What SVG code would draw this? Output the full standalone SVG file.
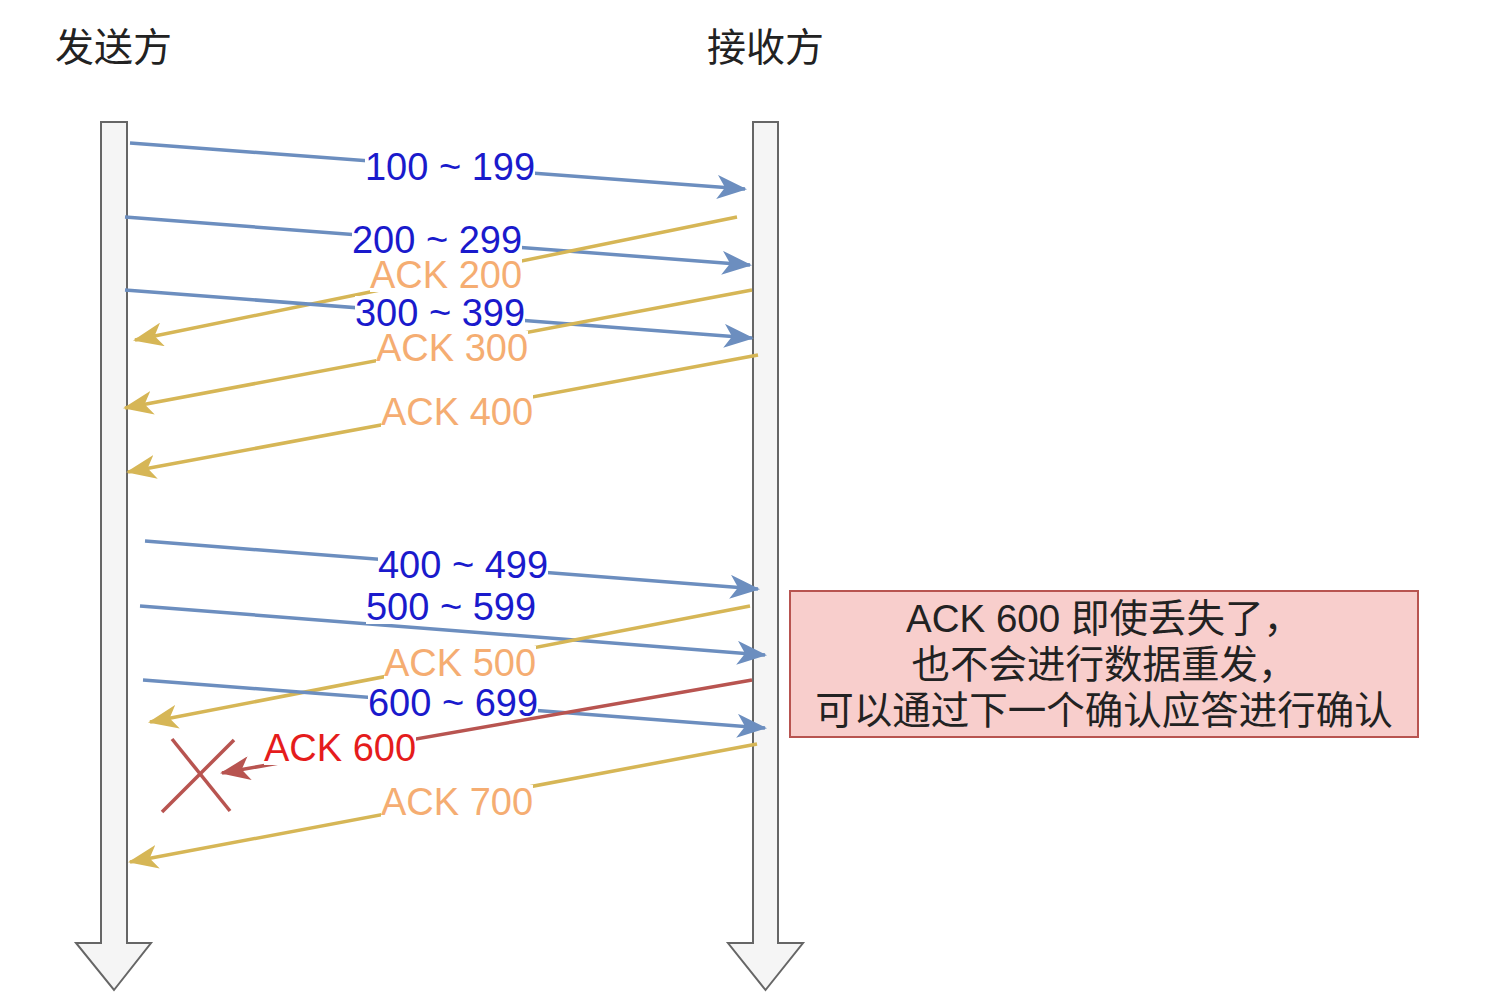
<svg xmlns="http://www.w3.org/2000/svg" width="1506" height="1000" viewBox="0 0 1506 1000">
<style>
.tl{fill:#f5f5f5;stroke:#666666;stroke-width:2}
.b{stroke:#6c8ebf;stroke-width:3.5;fill:none}
.y{stroke:#d6b656;stroke-width:3.5;fill:none}
.r{stroke:#b85450;stroke-width:3.5;fill:none}
.bg{fill:#ffffff}
.lb{font-family:"Liberation Sans",Arial,sans-serif;font-size:38px;text-anchor:middle}
.blue{fill:#1a1acc}
.org{fill:#f5ad72}
.red{fill:#e51c1c}
.cn{font-family:"Noto Sans CJK SC",sans-serif;font-size:39px;fill:#222222}
.note{font-family:"Liberation Sans","Noto Sans CJK SC",sans-serif;font-size:38.5px;fill:#222222;text-anchor:middle}
</style>
<defs>
<marker id="ab" markerUnits="userSpaceOnUse" markerWidth="30" markerHeight="24" viewBox="0 0 30 24" refX="28" refY="12" orient="auto"><path d="M0,0 L30,12 L0,24 L8,12 Z" fill="#6c8ebf"/></marker>
<marker id="ay" markerUnits="userSpaceOnUse" markerWidth="30" markerHeight="24" viewBox="0 0 30 24" refX="28" refY="12" orient="auto"><path d="M0,0 L30,12 L0,24 L8,12 Z" fill="#d6b656"/></marker>
<marker id="ar" markerUnits="userSpaceOnUse" markerWidth="30" markerHeight="24" viewBox="0 0 30 24" refX="28" refY="12" orient="auto"><path d="M0,0 L30,12 L0,24 L8,12 Z" fill="#b85450"/></marker>
</defs>
<rect x="0" y="0" width="1506" height="1000" fill="#ffffff"/>

<g id="sender">
<path class="tl" d="M101,122 H127 V943 H151 L114,990 L76,943 H101 Z"/>
<text class="cn" x="55" y="61">发送方</text>
</g>
<g id="receiver">
<path class="tl" d="M753,122 H778 V943 H803 L765.5,990 L728,943 H753 Z"/>
<text class="cn" x="707" y="61">接收方</text>
</g>

<g id="note">
<rect x="790" y="591" width="628" height="146" fill="#f8cecc" stroke="#b85450" stroke-width="2"/>
<text class="note" x="1104" y="632">ACK 600 即使丢失了，</text>
<text class="note" x="1104" y="678">也不会进行数据重发，</text>
<text class="note" x="1104" y="724">可以通过下一个确认应答进行确认</text>
</g>

<g id="connectors">
<g id="e1"><line class="b" x1="130" y1="143" x2="745" y2="189" marker-end="url(#ab)"/><rect class="bg" x="365" y="150" width="170" height="34"/><text class="lb blue" x="450" y="180">100 ~ 199</text></g>
<g id="e2"><line class="b" x1="125" y1="217" x2="750" y2="265" marker-end="url(#ab)"/><rect class="bg" x="352" y="223" width="170" height="34"/><text class="lb blue" x="437" y="253">200 ~ 299</text></g>
<g id="e3"><line class="y" x1="737" y1="217" x2="135" y2="340" marker-end="url(#ay)"/><rect class="bg" x="370" y="258" width="152" height="34"/><text class="lb org" x="446" y="288">ACK 200</text></g>
<g id="e4"><line class="b" x1="125" y1="290" x2="752" y2="338" marker-end="url(#ab)"/><rect class="bg" x="355" y="296" width="170" height="34"/><text class="lb blue" x="440" y="326">300 ~ 399</text></g>
<g id="e5"><line class="y" x1="752" y1="290" x2="125" y2="408" marker-end="url(#ay)"/><rect class="bg" x="376" y="331" width="152" height="34"/><text class="lb org" x="452" y="361">ACK 300</text></g>
<g id="e6"><line class="y" x1="758" y1="355" x2="128" y2="472" marker-end="url(#ay)"/><rect class="bg" x="381" y="395" width="152" height="34"/><text class="lb org" x="457" y="425">ACK 400</text></g>
<g id="e7"><line class="b" x1="145" y1="541" x2="758" y2="589" marker-end="url(#ab)"/><rect class="bg" x="378" y="548" width="170" height="34"/><text class="lb blue" x="463" y="578">400 ~ 499</text></g>
<g id="e8"><line class="b" x1="140" y1="606" x2="765" y2="655" marker-end="url(#ab)"/><rect class="bg" x="366" y="590" width="170" height="34"/><text class="lb blue" x="451" y="620">500 ~ 599</text></g>
<g id="e9"><line class="y" x1="750" y1="606" x2="150" y2="722" marker-end="url(#ay)"/><rect class="bg" x="384" y="646" width="152" height="34"/><text class="lb org" x="460" y="676">ACK 500</text></g>
<g id="e10"><line class="b" x1="143" y1="680" x2="765" y2="728" marker-end="url(#ab)"/><rect class="bg" x="368" y="686" width="170" height="34"/><text class="lb blue" x="453" y="716">600 ~ 699</text></g>
<g id="e11"><line class="r" x1="752" y1="680" x2="222" y2="773" marker-end="url(#ar)"/><rect class="bg" x="264" y="731" width="152" height="34"/><text class="lb red" x="340" y="761">ACK 600</text></g>
<g id="e12"><line class="y" x1="757" y1="744" x2="130" y2="862" marker-end="url(#ay)"/><rect class="bg" x="381" y="785" width="152" height="34"/><text class="lb org" x="457" y="815">ACK 700</text></g>
<g id="cross"><line class="r" x1="172" y1="739" x2="230" y2="811"/><line class="r" x1="234" y1="740" x2="162" y2="812"/></g>
</g>
</svg>
